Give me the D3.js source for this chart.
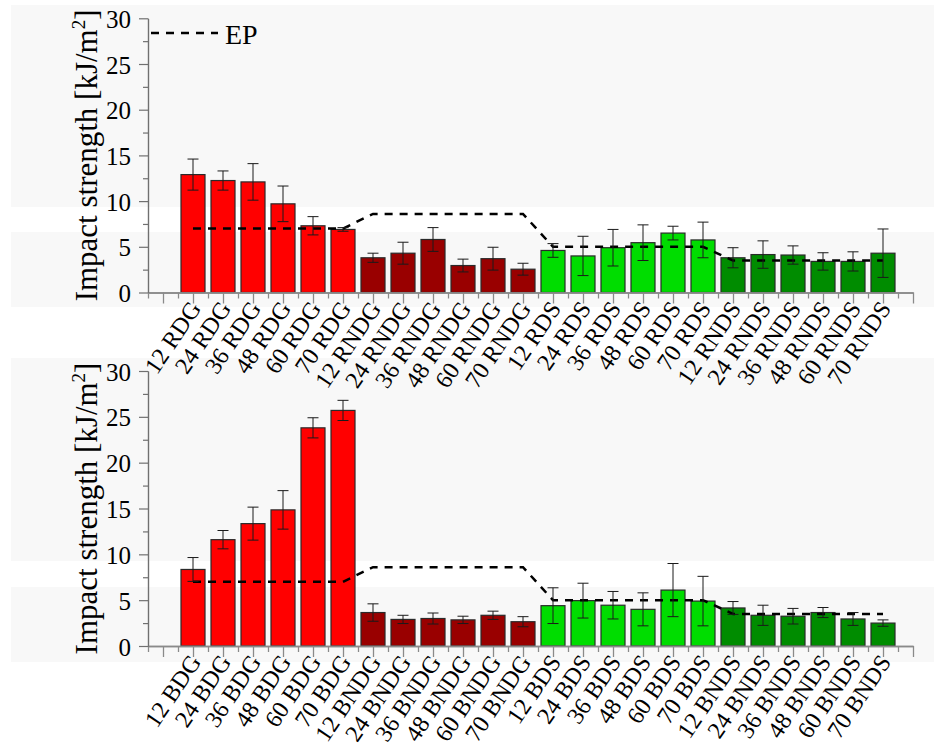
<!DOCTYPE html>
<html>
<head>
<meta charset="utf-8">
<script src="https://cdn.jsdelivr.net/npm/d3@7"></script>
<style>
  body { margin: 0; background: #ffffff; }
</style>
</head>
<body>
<div id="chart"></div>
<script>
// dose levels and sample groups
var doses = ["12", "24", "36", "48", "60", "70"];
var topGroups = ["RDG", "RNDG", "RDS", "RNDS"];
var bottomGroups = ["BDG", "BNDG", "BDS", "BNDS"];
var groupColors = ["#ff0000", "#990000", "#00dd00", "#008c00"];

// impact strength, kJ/m2
var topMean = [12.9, 12.25, 12.1, 9.7, 7.3, 6.9,
               3.8, 4.3, 5.8, 2.95, 3.7, 2.55,
               4.6, 4.0, 4.9, 5.45, 6.5, 5.75,
               3.8, 4.15, 4.1, 3.4, 3.4, 4.3];
var topErr  = [1.7, 1.05, 2.0, 1.95, 1.0, 0.2,
               0.5, 1.2, 1.3, 0.7, 1.25, 0.65,
               0.75, 2.15, 2.0, 1.95, 0.75, 1.95,
               1.1, 1.5, 1.0, 0.95, 1.05, 2.65];
var bottomMean = [8.35, 11.6, 13.35, 14.85, 23.8, 25.7,
                  3.65, 2.9, 3.0, 2.85, 3.35, 2.65,
                  4.4, 4.95, 4.45, 4.0, 6.1, 4.9,
                  4.15, 3.35, 3.25, 3.65, 2.95, 2.5];
var bottomErr  = [1.3, 1.0, 1.8, 2.1, 1.1, 1.1,
                  0.95, 0.45, 0.6, 0.4, 0.45, 0.55,
                  1.95, 1.9, 1.5, 1.8, 2.9, 2.7,
                  0.7, 1.1, 0.85, 0.55, 0.7, 0.35];
// EP reference line, one point per bar
var epValues = [7.0, 7.0, 7.0, 7.0, 7.0, 7.0,
                8.6, 8.6, 8.6, 8.6, 8.6, 8.6,
                5.0, 5.0, 5.0, 5.0, 5.0, 5.0,
                3.5, 3.5, 3.5, 3.5, 3.5, 3.5];
var yTicks = [0, 5, 10, 15, 20, 25, 30];
var yMinorTicks = [2.5, 7.5, 12.5, 17.5, 22.5, 27.5];

var serif = "'Liberation Serif', 'Times New Roman', Times, serif";
var width = 934, height = 754;
var svg = d3.select("#chart").append("svg")
    .attr("width", width).attr("height", height)
    .attr("font-family", serif);

var bgLayer = svg.append("g");

function drawPanel(opts)
{
    // light panel background with a white strip (kept underneath everything)
    bgLayer.append("rect")
        .attr("x", 11).attr("y", opts.bgTop)
        .attr("width", width - 11).attr("height", opts.bgBottom - opts.bgTop)
        .style("fill", "#f8f8f8");
    bgLayer.append("rect")
        .attr("x", 0).attr("y", opts.stripTop)
        .attr("width", width).attr("height", opts.stripBottom - opts.stripTop)
        .style("fill", "#ffffff");

    var g = svg.append("g");
    var x = d3.scaleLinear().domain([-1.5, 24]).range([148, 913]);
    var y = d3.scaleLinear().domain([0, 30]).range([opts.y0, opts.y30]);

    var labels = [];
    var colors = [];
    opts.groups.forEach(function(grp, gi) {
        doses.forEach(function(d) {
            labels.push(d + " " + grp);
            colors.push(groupColors[gi]);
        });
    });
    var idx = d3.range(opts.mean.length);

    // bars
    var barW = 24;
    g.append("g").selectAll("rect")
        .data(idx)
        .enter()
        .append("rect")
        .attr("x", function(i) { return x(i) - barW / 2; })
        .attr("y", function(i) { return y(opts.mean[i]); })
        .attr("width", barW)
        .attr("height", function(i) { return y(0) - y(opts.mean[i]); })
        .style("fill", function(i) { return colors[i]; })
        .style("stroke", "#2a2a2a")
        .style("stroke-width", 1.2);

    // EP dashed line
    var line = d3.line()
        .x(function(i) { return x(i); })
        .y(function(i) { return y(epValues[i]); });
    g.append("path")
        .datum(idx)
        .attr("d", line)
        .style("fill", "none")
        .style("stroke", "#000")
        .style("stroke-width", 2.5)
        .style("stroke-dasharray", "8,7");

    // error bars
    var eb = g.append("g").selectAll("g")
        .data(idx)
        .enter()
        .append("g")
        .style("stroke", "#1a1a1a")
        .style("stroke-width", 1);
    eb.append("line")
        .attr("x1", function(i) { return x(i); })
        .attr("x2", function(i) { return x(i); })
        .attr("y1", function(i) { return y(opts.mean[i] + opts.err[i]); })
        .attr("y2", function(i) { return y(opts.mean[i] - opts.err[i]); });
    eb.append("line")
        .attr("x1", function(i) { return x(i) - 5.5; })
        .attr("x2", function(i) { return x(i) + 5.5; })
        .attr("y1", function(i) { return y(opts.mean[i] + opts.err[i]); })
        .attr("y2", function(i) { return y(opts.mean[i] + opts.err[i]); });
    eb.append("line")
        .attr("x1", function(i) { return x(i) - 5.5; })
        .attr("x2", function(i) { return x(i) + 5.5; })
        .attr("y1", function(i) { return y(opts.mean[i] - opts.err[i]); })
        .attr("y2", function(i) { return y(opts.mean[i] - opts.err[i]); });

    // x axis: long ticks at bar centres, short ticks in between
    var xMajor = g.append("g")
        .attr("transform", "translate(0," + opts.y0 + ")")
        .call(d3.axisBottom(x).tickValues(d3.range(-1, 25)).tickSize(11).tickSizeOuter(0).tickFormat(""));
    var xMinor = g.append("g")
        .attr("transform", "translate(0," + opts.y0 + ")")
        .call(d3.axisBottom(x).tickValues(d3.range(-1.5, 24, 1)).tickSize(6).tickSizeOuter(0).tickFormat(""));
    [xMajor, xMinor].forEach(function(a) {
        a.selectAll("line").style("stroke", "#8a8a8a").style("stroke-width", 1.3);
        a.select(".domain").style("stroke", "#8a8a8a").style("stroke-width", 1.3);
    });

    // y axis
    var yMajor = g.append("g")
        .attr("transform", "translate(148,0)")
        .call(d3.axisLeft(y).tickValues(yTicks).tickSize(9).tickSizeOuter(0).tickPadding(8));
    var yMinor = g.append("g")
        .attr("transform", "translate(148,0)")
        .call(d3.axisLeft(y).tickValues(yMinorTicks).tickSize(5).tickSizeOuter(0).tickFormat(""));
    [yMajor, yMinor].forEach(function(a) {
        a.attr("font-family", serif);
        a.selectAll("line").style("stroke", "#707070").style("stroke-width", 1.2);
        a.select(".domain").style("stroke", "#707070").style("stroke-width", 1.2);
    });
    yMajor.selectAll("text")
        .style("font-family", serif)
        .style("font-size", "25px")
        .style("fill", "#000")
        .attr("dy", "0.36em");

    // rotated category labels
    g.append("g").selectAll("text")
        .data(idx)
        .enter()
        .append("text")
        .attr("text-anchor", "end")
        .attr("transform", function(i) {
            return "translate(" + (x(i) + 9) + "," + (opts.y0 + 16) + ") rotate(-56)";
        })
        .style("font-family", serif)
        .style("font-size", "24px")
        .text(function(i) { return labels[i]; });

    // y axis title
    var title = g.append("text")
        .attr("text-anchor", "middle")
        .attr("transform", "translate(97," + ((opts.y0 + opts.y30) / 2) + ") rotate(-90)")
        .style("font-family", serif)
        .style("font-size", "31px");
    title.append("tspan").text("Impact strength [kJ/m");
    title.append("tspan").attr("dy", -12).style("font-size", "19px").text("2");
    title.append("tspan").attr("dy", 12).text("]");

    return g;
}

drawPanel({
    groups: topGroups, mean: topMean, err: topErr,
    y0: 292.5, y30: 18.3,
    bgTop: 5, bgBottom: 307, stripTop: 207, stripBottom: 232
});
drawPanel({
    groups: bottomGroups, mean: bottomMean, err: bottomErr,
    y0: 646, y30: 371,
    bgTop: 358, bgBottom: 662, stripTop: 561, stripBottom: 587
});

// legend (top panel only)
svg.append("line")
    .attr("x1", 151).attr("x2", 218)
    .attr("y1", 33).attr("y2", 33)
    .style("stroke", "#000")
    .style("stroke-width", 2.5)
    .style("stroke-dasharray", "8,7");
svg.append("text")
    .attr("x", 225).attr("y", 44)
    .style("font-family", serif)
    .style("font-size", "28px")
    .text("EP");
</script>
</body>
</html>
